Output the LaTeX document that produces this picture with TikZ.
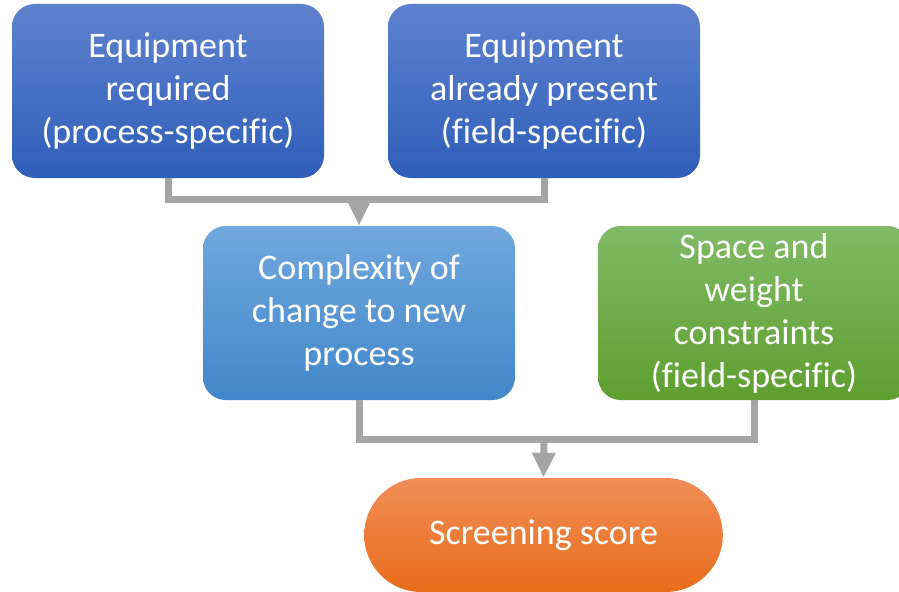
\documentclass[tikz,border=0pt]{standalone}
\usepackage{fontspec}
\setmainfont[Ligatures=NoCommon]{Carlito}
\usetikzlibrary{arrows.meta}

\definecolor{linkgray}{HTML}{A5A5A5}
\definecolor{darktop}{HTML}{5F82CF}
\definecolor{darkbot}{HTML}{2E5EB9}
\definecolor{lighttop}{HTML}{71A7DE}
\definecolor{lightbot}{HTML}{4187C9}
\definecolor{greentop}{HTML}{80BA66}
\definecolor{greenbot}{HTML}{5E9F2F}
\definecolor{orangetop}{HTML}{F08D57}
\definecolor{orangebot}{HTML}{E86D1B}

\newcommand*{\boxw}{234pt}
\newcommand*{\boxh}{130.5pt}

\begin{document}
\begin{tikzpicture}
[
	x=0.75pt,
	y=-0.75pt,
	stepbox/.style={rectangle,rounded corners=17pt,minimum width=\boxw,minimum height=\boxh,
		inner sep=0pt,align=center,text=white,font=\fontsize{27}{32.25}\selectfont},
	darkbox/.style={stepbox,top color=darktop,bottom color=darkbot},
	lightbox/.style={stepbox,top color=lighttop,bottom color=lightbot},
	greenbox/.style={stepbox,top color=greentop,bottom color=greenbot},
	scorebox/.style={stepbox,rounded corners=42.75pt,minimum width=269pt,minimum height=85.5pt,
		top color=orangetop,bottom color=orangebot},
	link/.style={linkgray,line width=5.25pt,line join=miter},
	arrow/.style={link,-{Triangle[length=18.75pt,width=16.5pt]}}
]

	\useasboundingbox (0,0) rectangle (899,592);
	\clip (0,0) rectangle (899,592);

	% boxes
	\node[darkbox] (required) at (168,91) {Equipment\\required\\(process-specific)};
	\node[darkbox] (present) at (544,91) {Equipment\\already present\\(field-specific)};
	\node[lightbox] (complexity) at (359,313) {Complexity of\\change to new\\process};
	\node[greenbox] (space) at (754,313) {Space and\\weight\\constraints\\(field-specific)};
	\node[scorebox] (score) at (543.5,535) {Screening score};

	% joins
	\coordinate (join1) at (359,199);
	\coordinate (join2) at (544,439);

	% connectors
	\draw[link] (required.south) |- (join1) -| (present.south);
	\draw[arrow] (join1) -- (complexity.north);

	\draw[link] (complexity.south) |- (join2) -| (space.south);
	\draw[arrow] (join2) -- (score.north);

\end{tikzpicture}
\end{document}
